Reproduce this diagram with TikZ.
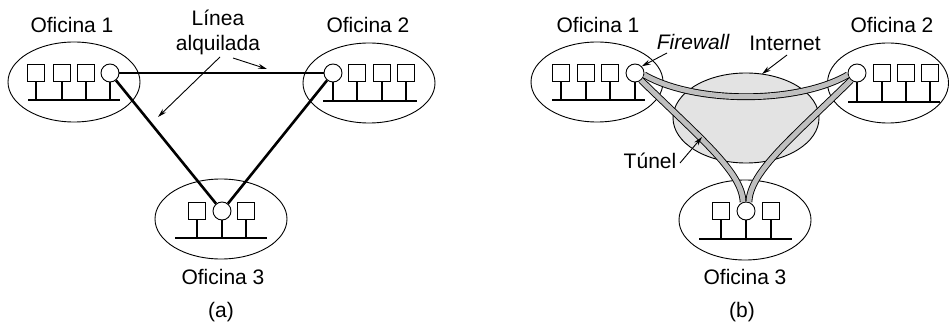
\documentclass[tikz,border=0pt]{standalone}
\usepackage{fontspec}
\setmainfont{Liberation Sans}
\usetikzlibrary{arrows.meta, shapes.geometric}

\begin{document}
\begin{tikzpicture}[x=1pt, y=-1pt,
  oficina/.style={draw, ellipse, line width=0.9pt, minimum width=132, minimum height=80},
  host/.style={draw, fill=white, line width=0.9pt, minimum size=17, inner sep=0pt},
  router/.style={draw, circle, fill=white, line width=0.9pt, minimum size=18, inner sep=0pt},
  bus/.style={line width=2.5pt},
  linea/.style={line width=2.6pt},
  tunel/.style={double=gray!50, double distance=5pt, line width=0.9pt},
  flecha/.style={-{Stealth[length=9pt, width=5pt]}, line width=0.9pt},
  etiqueta/.style={font=\fontsize{21}{25}\selectfont, align=center},
]
  \useasboundingbox (0,0) rectangle (949,323);

  % (a) Three offices joined by leased lines
  \node[oficina] (o1a) at (74,82) {};
  \node[host] (h1a1) at (36,73) {};
  \node[host] (h1a2) at (62,73) {};
  \node[host] (h1a3) at (86,73) {};
  \node[router] (r1a) at (110,73) {};
  \coordinate (b1a-l) at (28,100);
  \coordinate (b1a-r) at (120,100);

  \node[oficina] (o2a) at (369,83) {};
  \node[router] (r2a) at (333,73) {};
  \node[host] (h2a1) at (357,73) {};
  \node[host] (h2a2) at (382,73) {};
  \node[host] (h2a3) at (406,73) {};
  \coordinate (b2a-l) at (323,101);
  \coordinate (b2a-r) at (417,101);

  \node[oficina] (o3a) at (221,219) {};
  \node[host] (h3a1) at (197,211) {};
  \node[router] (r3a) at (222,211) {};
  \node[host] (h3a2) at (246,211) {};
  \coordinate (b3a-l) at (175,238);
  \coordinate (b3a-r) at (267,238);

  \draw[bus] (b1a-l) -- (b1a-r);
  \draw[bus] (b2a-l) -- (b2a-r);
  \draw[bus] (b3a-l) -- (b3a-r);
  \foreach \n in {h1a1,h1a2,h1a3,r1a} \draw[bus] (\n.south) -- (\n.south |- b1a-l);
  \foreach \n in {r2a,h2a1,h2a2,h2a3} \draw[bus] (\n.south) -- (\n.south |- b2a-l);
  \foreach \n in {h3a1,r3a,h3a2} \draw[bus] (\n.south) -- (\n.south |- b3a-l);

  \draw[linea] (r1a) -- (r2a);
  \draw[linea] (r1a) -- (r3a);
  \draw[linea] (r2a) -- (r3a);

  \node[etiqueta] (t1a) at (72,25) {Oficina 1};
  \node[etiqueta] (t2a) at (368,25) {Oficina 2};
  \node[etiqueta] (t3a) at (223,277) {Oficina 3};
  \node[etiqueta] (linea) at (218,32) {Línea\\alquilada};
  \node[etiqueta] (cap-a) at (221,312) {(a)};

  \coordinate (la1) at (220,57);
  \coordinate (la1-fin) at (158,117);
  \coordinate (la2) at (233,58);
  \coordinate (la2-fin) at (267,69);
  \draw[flecha] (la1) -- (la1-fin);
  \draw[flecha] (la2) -- (la2-fin);

  % (b) Same offices joined by tunnels through the Internet
  \node[oficina] (o1b) at (597,82) {};
  \node[host] (h1b1) at (561,73) {};
  \node[host] (h1b2) at (586,73) {};
  \node[host] (h1b3) at (610,73) {};
  \node[router] (r1b) at (635,73) {};
  \coordinate (b1b-l) at (552,100);
  \coordinate (b1b-r) at (645,100);

  \node[oficina, minimum width=121] (o2b) at (888,83) {};
  \node[router] (r2b) at (857,73) {};
  \node[host] (h2b1) at (882,73) {};
  \node[host] (h2b2) at (906,73) {};
  \node[host] (h2b3) at (930,73) {};
  \coordinate (b2b-l) at (848,102);
  \coordinate (b2b-r) at (940,102);

  \node[oficina] (o3b) at (745,220) {};
  \node[host] (h3b1) at (721,211) {};
  \node[router] (r3b) at (746,211) {};
  \node[host] (h3b2) at (771,211) {};
  \coordinate (b3b-l) at (699,239);
  \coordinate (b3b-r) at (792,239);

  \draw[bus] (b1b-l) -- (b1b-r);
  \draw[bus] (b2b-l) -- (b2b-r);
  \draw[bus] (b3b-l) -- (b3b-r);
  \foreach \n in {h1b1,h1b2,h1b3,r1b} \draw[bus] (\n.south) -- (\n.south |- b1b-l);
  \foreach \n in {r2b,h2b1,h2b2,h2b3} \draw[bus] (\n.south) -- (\n.south |- b2b-l);
  \foreach \n in {h3b1,r3b,h3b2} \draw[bus] (\n.south) -- (\n.south |- b3b-l);

  \node[draw, ellipse, fill=gray!22, line width=0.9pt, minimum width=146, minimum height=90] (internet) at (746,118) {};

  \draw[tunel] (r1b.-12) .. controls (695,104) and (797,104) .. (r2b.192);
  \draw[tunel] (r1b.-50) .. controls (700,138) and (742,172) .. (r3b.108);
  \draw[tunel] (r2b.230) .. controls (792,138) and (750,172) .. (r3b.72);

  \node[etiqueta] (t1b) at (598,25) {Oficina 1};
  \node[etiqueta] (t2b) at (892,25) {Oficina 2};
  \node[etiqueta] (t3b) at (745,277) {Oficina 3};
  \node[etiqueta] (firewall) at (693,42) {\itshape Firewall};
  \node[etiqueta] (t-internet) at (785,43) {Internet};
  \node[etiqueta] (t-tunel) at (650,161) {Túnel};
  \node[etiqueta] (cap-b) at (742,312) {(b)};

  \coordinate (fw) at (667,53);
  \coordinate (in) at (787,55);
  \coordinate (in-fin) at (762,74);
  \coordinate (tu) at (680,163);
  \coordinate (tu-fin) at (702,137);
  \draw[flecha] (fw) -- (r1b.45);
  \draw[flecha] (in) -- (in-fin);
  \draw[flecha] (tu) -- (tu-fin);
\end{tikzpicture}
\end{document}
